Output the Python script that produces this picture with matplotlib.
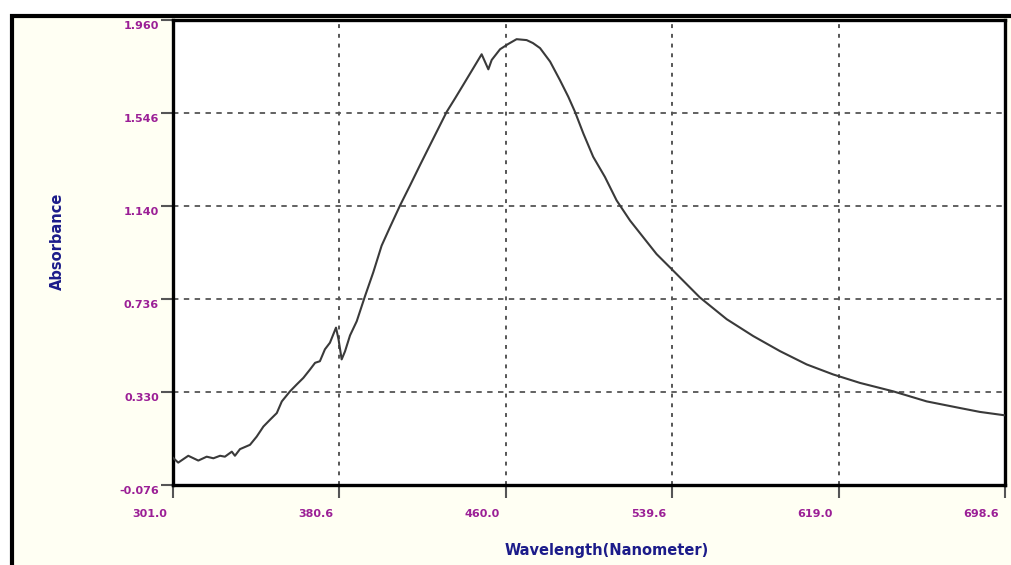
import numpy as np
import matplotlib
matplotlib.use('Agg')
import matplotlib.pyplot as plt
from matplotlib.patches import Rectangle
from matplotlib.transforms import ScaledTranslation

# spectrum
wavelength = [301.0, 303.5, 308.3, 313.1, 317.1, 320.3, 323.5, 325.8, 329.1, 330.6,
              333.0, 337.8, 341.0, 344.2, 347.4, 350.6, 353.0, 356.9, 360.1, 363.3,
              366.5, 368.9, 371.2, 373.6, 376.0, 378.9, 380.1, 381.6, 383.2, 385.6,
              388.8, 392.8, 396.7, 400.7, 404.7, 409.5, 414.3, 419.0, 423.8, 427.8,
              431.8, 435.8, 439.7, 444.5, 448.5, 451.7, 453.3, 457.3, 461.2, 465.2,
              470.0, 473.0, 476.4, 481.2, 485.9, 489.9, 493.1, 497.1, 501.8, 507.4,
              513.0, 519.4, 525.7, 532.1, 540.1, 546.5, 552.8, 565.6, 578.3, 591.1,
              603.8, 616.5, 629.3, 645.2, 661.2, 677.1, 686.6, 698.6]
absorbance = [0.043, 0.022, 0.052, 0.031, 0.048, 0.041, 0.052, 0.048, 0.070, 0.052,
              0.081, 0.100, 0.136, 0.180, 0.210, 0.239, 0.290, 0.334, 0.364, 0.393,
              0.430, 0.459, 0.466, 0.518, 0.547, 0.613, 0.562, 0.474, 0.509, 0.579,
              0.641, 0.752, 0.855, 0.972, 1.053, 1.148, 1.236, 1.324, 1.412, 1.485,
              1.558, 1.617, 1.676, 1.749, 1.810, 1.744, 1.785, 1.832, 1.855, 1.876,
              1.872, 1.859, 1.837, 1.778, 1.697, 1.624, 1.558, 1.463, 1.361, 1.273,
              1.170, 1.082, 1.009, 0.935, 0.862, 0.803, 0.745, 0.650, 0.576, 0.510,
              0.452, 0.408, 0.371, 0.334, 0.290, 0.261, 0.244, 0.229]

x_labels = ['301.0', '380.6', '460.0', '539.6', '619.0', '698.6']
y_labels = ['-0.076', '0.330', '0.736', '1.140', '1.546', '1.960']

X_MIN, X_MAX = 301.0, 698.6
Y_MIN, Y_MAX = -0.076, 1.960

W, H = 1012, 565
CREAM = '#fffff3'
TICK_COL = '#9b1f96'
LABEL_COL = '#1c1c8a'

fig = plt.figure(figsize=(W / 100, H / 100), dpi=100)
fig.patch.set_facecolor('white')

# outer window frame (behind the axes)
frame = Rectangle((12 / W, -0.2), 1.2, 1.2 - 16 / H, transform=fig.transFigure,
                  facecolor=CREAM, edgecolor='black', linewidth=3, zorder=-5)
fig.patches.append(frame)

left, right, top, bottom = 173, 1005, 20, 485
ax = fig.add_axes([left / W, 1 - bottom / H, (right - left) / W, (bottom - top) / H])
ax.set_zorder(2)
ax.set_facecolor('white')

ax.plot(wavelength, absorbance, color='#3a3a3a', linewidth=1.5, zorder=3)

ax.set_xlim(X_MIN, X_MAX)
ax.set_ylim(Y_MIN, Y_MAX)
ax.set_xticks(np.linspace(X_MIN, X_MAX, len(x_labels)))
ax.set_yticks(np.linspace(Y_MIN, Y_MAX, len(y_labels)))
ax.set_xticklabels(x_labels)
ax.set_yticklabels(y_labels)

ax.xaxis.grid(True, color='#555555', linestyle=(0, (2, 3)), linewidth=1.4)
ax.yaxis.grid(True, color='#555555', linestyle=(0, (3, 3)), linewidth=1.3)
ax.set_axisbelow(True)

for sp in ax.spines.values():
    sp.set_color('black')
    sp.set_linewidth(2.4)

ax.tick_params(axis='both', direction='out', length=9, width=1.5, color='#555555',
               labelcolor=TICK_COL, labelsize=8)
ax.tick_params(axis='x', pad=8)
ax.tick_params(axis='y', pad=1)

# labels sit right-aligned, a little left of / below their ticks
dx = ScaledTranslation(-6 / 100, 0, fig.dpi_scale_trans)
dy = ScaledTranslation(0, -5 / 100, fig.dpi_scale_trans)
for lab in ax.get_xticklabels():
    lab.set_fontweight('bold')
    lab.set_horizontalalignment('right')
    lab.set_transform(lab.get_transform() + dx)
for lab in ax.get_yticklabels():
    lab.set_fontweight('bold')
    lab.set_transform(lab.get_transform() + dy)

fig.text(57 / W, 1 - 241 / H, 'Absorbance', rotation=90, ha='center', va='center',
         color=LABEL_COL, fontsize=10.5, fontweight='bold', zorder=5)
fig.text(607 / W, 1 - 551 / H, 'Wavelength(Nanometer)', ha='center', va='center',
         color=LABEL_COL, fontsize=10.5, fontweight='bold', zorder=5)

fig.savefig('out.png', dpi=100, facecolor=fig.get_facecolor())
